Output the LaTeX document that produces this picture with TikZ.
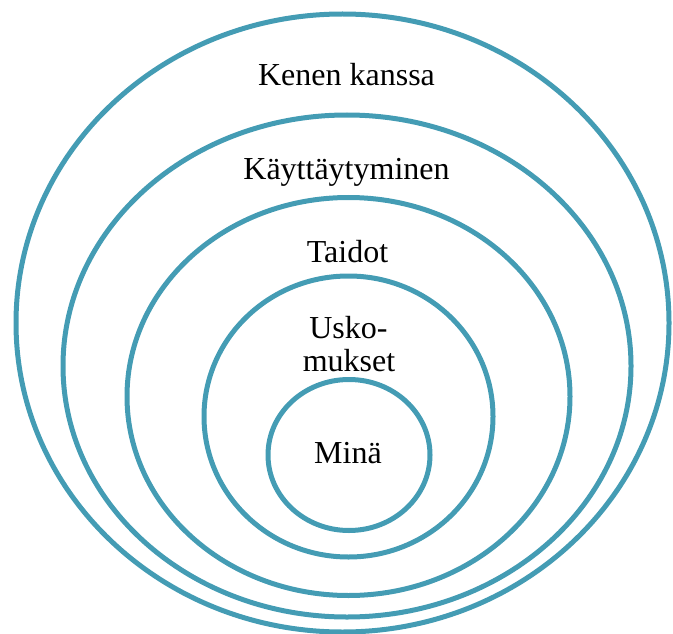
\documentclass[tikz,border=0pt]{standalone}
\usepackage{fontspec}
\setmainfont{Liberation Serif}
\definecolor{ring}{RGB}{68,156,180}
\begin{document}
\begin{tikzpicture}[x=1bp,y=-1bp,
  ringline/.style={draw=ring,line width=5bp},
  lbl/.style={anchor=base,font=\fontsize{32bp}{34bp}\selectfont,inner sep=0pt}]
\useasboundingbox (0,0) rectangle (673,634);
\draw[ringline] (342.5,323) ellipse [x radius=326.5, y radius=309];
\draw[ringline] (347,366) ellipse [x radius=284, y radius=251];
\draw[ringline] (348.5,396.5) ellipse [x radius=221.5, y radius=199];
\draw[ringline] (348.5,416.5) ellipse [x radius=144.5, y radius=140.5];
\draw[ringline] (349,455) ellipse [x radius=81, y radius=75.5];
\node[lbl] (kenen) at (346.5,86) {Kenen kanssa};
\node[lbl] (kayt) at (346.5,180) {Käyttäytyminen};
\node[lbl] (taidot) at (347.5,262) {Taidot};
\node[lbl] (usko) at (348.5,338) {Usko-};
\node[lbl] (mukset) at (349,371) {mukset};
\node[lbl] (mina) at (348,463) {Minä};
\end{tikzpicture}
\end{document}
